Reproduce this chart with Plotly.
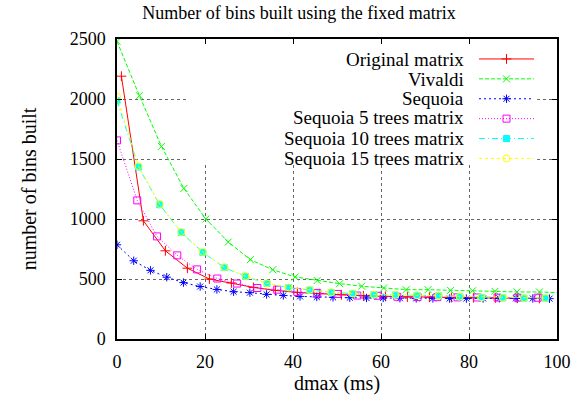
import plotly.graph_objects as go

# ---- data ----
orig_x = [1, 6, 11, 16, 21, 26, 31, 36, 41, 46, 51, 56, 61, 66, 71, 76, 81, 86, 91, 96]
orig_y = [2190, 985, 735, 590, 500, 467, 430, 405, 388, 378, 368, 360, 355, 350, 348, 346, 344, 342, 340, 338]

viv_x = [0, 5.1, 10.1, 15.2, 20.2, 25.3, 30.3, 35.4, 40.5, 45.5, 50.6, 55.6, 60.6,
         65.7, 70.7, 75.8, 80.8, 85.9, 90.9, 96.0, 101.0]
viv_y = [2480, 2027, 1605, 1255, 1000, 808, 661, 577, 517, 488, 461, 440, 425,
         411, 411, 405, 402, 397, 392, 392, 385]

seq_x = [0, 3.8, 7.6, 11.3, 15.1, 18.9, 22.7, 26.5, 30.2, 34.0, 37.8, 41.6, 45.4, 49.1,
         52.9, 56.7, 60.5, 64.3, 68.0, 71.8, 75.6, 79.4, 83.2, 86.9, 90.7, 94.5, 98.3]
seq_y = [785, 652, 572, 515, 470, 437, 413, 394, 386, 372, 363, 355, 350, 347,
         344, 342, 342, 340, 338, 338, 337, 337, 338, 340, 339, 338, 336]

s5_x = [0, 4.6, 9.1, 13.7, 18.2, 22.8, 27.3, 31.9, 36.4, 41.0, 45.5, 50.1, 54.6, 59.2,
        63.7, 68.3, 72.8, 77.4, 81.9, 86.5, 91.0, 95.6]
s5_y = [1655, 1155, 855, 697, 580, 504, 462, 425, 411, 392, 383, 375, 362, 360,
        352, 350, 349, 347, 346, 345, 345, 344]

s10_x = [0, 4.9, 9.7, 14.6, 19.5, 24.4, 29.2, 34.1, 39.0, 43.8, 48.7, 53.6, 58.4,
         63.3, 68.2, 73.1, 77.9, 82.8, 87.7, 92.5, 97.4]
s10_y = [1985, 1433, 1119, 888, 722, 595, 522, 462, 428, 408, 388, 378, 369,
         367, 363, 360, 352, 347, 343, 340, 340]

s15_x = [0, 4.9, 9.7, 14.6, 19.5, 24.4, 29.2, 34.1, 39.0, 43.8, 48.7, 53.6, 58.4,
         63.3, 68.2, 73.1, 77.9, 82.8, 87.7, 92.5, 97.4]
s15_y = [2020, 1440, 1125, 892, 726, 598, 524, 464, 430, 410, 390, 380, 370,
         368, 364, 361, 353, 348, 344, 341, 341]

names = ["Original matrix", "Vivaldi", "Sequoia", "Sequoia 5 trees matrix",
         "Sequoia 10 trees matrix", "Sequoia 15 trees matrix"]

x_ticks = [0, 20, 40, 60, 80, 100]
y_ticks = [0, 500, 1000, 1500, 2000, 2500]

FONT = "Liberation Serif, 'Times New Roman', Times, serif"

series = [
    (orig_x, orig_y, "#ff0000", "solid", "cross-thin-open", 7),
    (viv_x, viv_y, "#00ff00", "4px,2px", "x-thin-open", 7),
    (seq_x, seq_y, "#0000ff", "2px,3px", "asterisk-open", 7),
    (s5_x, s5_y, "#ff00ff", "1px,2px", "square-open", 7),
    (s10_x, s10_y, "#00ffff", "6px,3px,1px,3px", "square", 6),
    (s15_x, s15_y, "#ffff00", "3px,3px", "circle-open", 7),
]

fig = go.Figure()
for (xs, ys, col, dash, sym, size) in series:
    fig.add_trace(go.Scatter(
        x=xs, y=ys, mode="lines+markers", name="",
        line=dict(color=col, width=1, dash=dash),
        marker=dict(symbol=sym, size=size, color=col, line=dict(color=col, width=1)),
        showlegend=True,
    ))

L, R, T, B = 117, 31, 39, 67
W, H = 588, 406
pw, ph = W - L - R, H - T - B

def px_to_paper_x(px):
    return (px - L) / pw

def px_to_paper_y(py):
    return (H - B - py) / ph

# legend texts (right-aligned like the gnuplot key)
row_y = [59, 79, 99, 118, 138, 158]
annotations = []
for nm, ry in zip(names, row_y):
    annotations.append(dict(
        text=nm, xref="paper", yref="paper",
        x=px_to_paper_x(466), y=px_to_paper_y(ry),
        xanchor="right", yanchor="middle", showarrow=False,
        font=dict(family=FONT, size=19, color="black"),
    ))

shapes = [dict(type="rect", xref="x", yref="y", x0=16, x1=95.5, y0=1450, y1=2500,
               fillcolor="white", line=dict(width=0), layer="between")]

fig.update_layout(
    width=W, height=H,
    margin=dict(l=L, r=R, t=T, b=B),
    paper_bgcolor="white", plot_bgcolor="white",
    font=dict(family=FONT, size=18, color="black"),
    title=dict(text="Number of bins built using the fixed matrix",
               x=299 / W, xref="container", xanchor="center",
               y=1 - 13 / H, yref="container", yanchor="middle",
               font=dict(family=FONT, size=18, color="black")),
    xaxis=dict(range=[0, 100], tickvals=x_ticks, ticks="inside", ticklen=5,
               tickcolor="black", showline=True, linecolor="black", linewidth=1.5,
               mirror="ticks", showgrid=True, gridcolor="#666666", griddash="dot",
               gridwidth=1, zeroline=False, ticklabelstandoff=6,
               title=dict(text="dmax (ms)", standoff=5,
                          font=dict(family=FONT, size=20))),
    yaxis=dict(range=[0, 2500], tickvals=y_ticks, ticks="inside", ticklen=5,
               tickcolor="black", showline=True, linecolor="black", linewidth=1.5,
               mirror="ticks", showgrid=True, gridcolor="#666666", griddash="dot",
               gridwidth=1, zeroline=False, ticklabelstandoff=6,
               title=dict(text="number of bins built", standoff=28,
                          font=dict(family=FONT, size=20))),
    legend=dict(x=px_to_paper_x(474), y=px_to_paper_y(44), xanchor="left", yanchor="top",
                bgcolor="rgba(0,0,0,0)", borderwidth=0, itemwidth=55,
                font=dict(family=FONT, size=13), tracegroupgap=0),
    annotations=annotations,
    shapes=shapes,
)

fig.write_html("out.html", config={"displayModeBar": False},
               post_script="document.body.style.margin='0';")
